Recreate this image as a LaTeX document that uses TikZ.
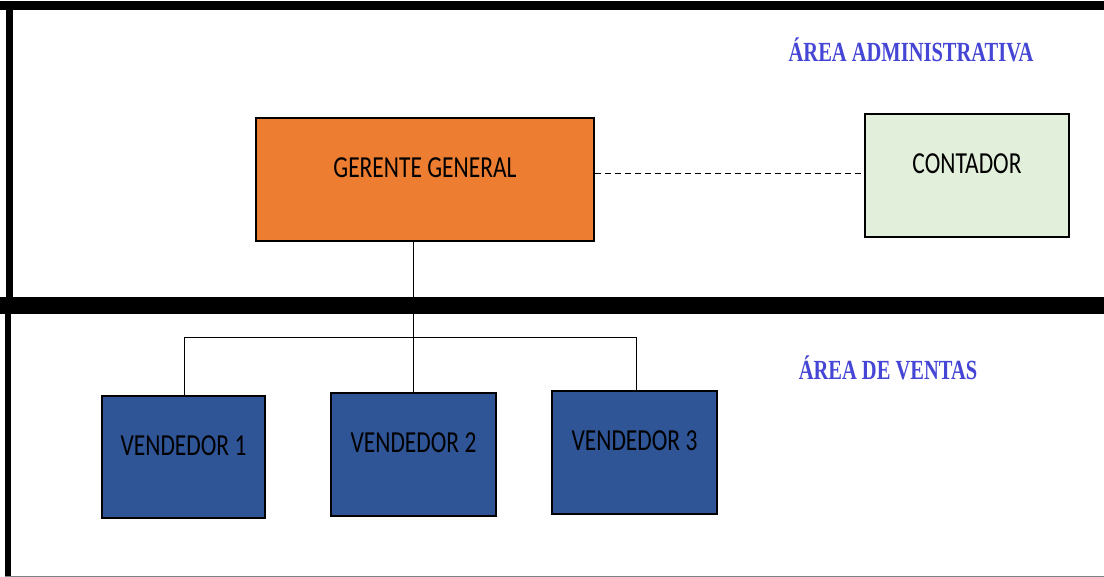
\documentclass[tikz,border=0pt]{standalone}
\usepackage{fontspec}
\setmainfont{Liberation Serif}
\newfontfamily\boxfont{Carlito}
\definecolor{orangebox}{HTML}{ED7D31}
\definecolor{greenbox}{HTML}{E2EFDA}
\definecolor{bluebox}{HTML}{2F5597}
\definecolor{titleblue}{HTML}{4646D6}
\tikzset{
  orgbox/.style={draw=black, line width=2pt, inner sep=0pt, anchor=north west},
  boxtext/.style={font=\boxfont},
  areatitle/.style={text=titleblue, inner sep=0pt},
  frame/.style={fill=black, draw=none},
  link/.style={draw=black, line width=0.8pt},
}
\newcommand{\boxlabel}[1]{\raisebox{2pt}[0pt][0pt]{\scalebox{1}[1.3]{\fontsize{23.5}{28}\selectfont #1}}}
\newcommand{\arealabel}[1]{\scalebox{1}[1.35]{\fontsize{20.5}{24}\selectfont\bfseries #1}}
\begin{document}
\begin{tikzpicture}[x=1pt, y=-1pt]
\useasboundingbox (0,0) rectangle (1104,577);
% frame
\fill[white] (0,0) rectangle (1104,577);
\path[frame] (0,1) rectangle (1104,10);
\path[frame] (6,1) rectangle (13,298);
\path[frame] (0,297) rectangle (1104,314);
\path[frame] (5,314) rectangle (11,577);
\draw[gray, line width=1pt] (5,576) -- (1104,576);
% titles
\node[areatitle] (tadm) at (911,50) {\arealabel{ÁREA ADMINISTRATIVA}};
\node[areatitle] (tven) at (888,368) {\arealabel{ÁREA DE VENTAS}};
% boxes
\node[orgbox, fill=orangebox, minimum width=338pt, minimum height=123pt, boxtext] (gg) at (255,117) {\boxlabel{GERENTE GENERAL}};
\node[orgbox, fill=greenbox, minimum width=204pt, minimum height=123pt, boxtext] (ct) at (864,113) {\boxlabel{CONTADOR}};
\node[orgbox, fill=bluebox, minimum width=163pt, minimum height=122pt, boxtext] (v1) at (101,395) {\boxlabel{VENDEDOR 1}};
\node[orgbox, fill=bluebox, minimum width=165pt, minimum height=123pt, boxtext] (v2) at (330,392) {\boxlabel{VENDEDOR 2}};
\node[orgbox, fill=bluebox, minimum width=165pt, minimum height=123pt, boxtext] (v3) at (551,390) {\boxlabel{VENDEDOR 3}};
% connectors
\draw[link, line width=1.1pt, dash pattern=on 6pt off 4pt] ([yshift=6pt]gg.east) -- ([yshift=6pt]gg.east -| ct.west);
\coordinate (top) at (413,240);
\coordinate (hl) at (184,337);
\coordinate (hr) at (636,337);
\draw[link] (gg.south -| top) -- (top |- v2.north);
\draw[link] (hl) -- (hr);
\draw[link] (hl) -- (hl |- v1.north);
\draw[link] (hr) -- (hr |- v3.north);
\end{tikzpicture}
\end{document}
